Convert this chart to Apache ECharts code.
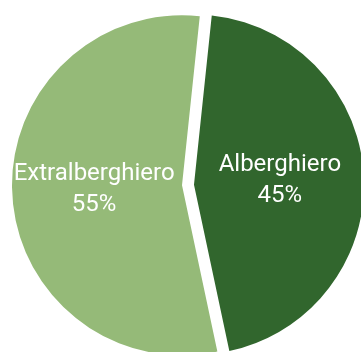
<!DOCTYPE html>
<html>
<head>
<meta charset="utf-8">
<script src="https://cdn.jsdelivr.net/npm/echarts@6/dist/echarts.min.js"></script>
<style>
html,body{margin:0;padding:0;background:#fff;}
#chart{width:361px;height:352px;}
</style>
</head>
<body>
<div id="chart"></div>
<script>
var categories = ['Alberghiero', 'Extralberghiero'];
var values = [45, 55];
var colors = ['#31662d', '#95ba78'];
var labelPad = [[2, 4, 0, 0], [10, 0, 0, 0]];

var chart = echarts.init(document.getElementById('chart'), null, {renderer: 'canvas'});
chart.setOption({
  animation: false,
  series: [{
    type: 'pie',
    center: [188, 185],
    radius: 170,
    startAngle: 84,
    clockwise: true,
    selectedMode: 'multiple',
    selectedOffset: 6,
    emphasis: {disabled: true},
    label: {
      show: true,
      position: 'inside',
      color: '#ffffff',
      fontFamily: 'Roboto',
      fontSize: 24,
      lineHeight: 31,
      formatter: function (p) { return p.name + '\n' + p.value + '%'; }
    },
    labelLine: {show: false},
    itemStyle: {borderWidth: 0},
    data: categories.map(function (c, i) {
      return {name: c, value: values[i], selected: true, itemStyle: {color: colors[i]},
              label: {padding: labelPad[i]}};
    })
  }]
});
</script>
</body>
</html>
